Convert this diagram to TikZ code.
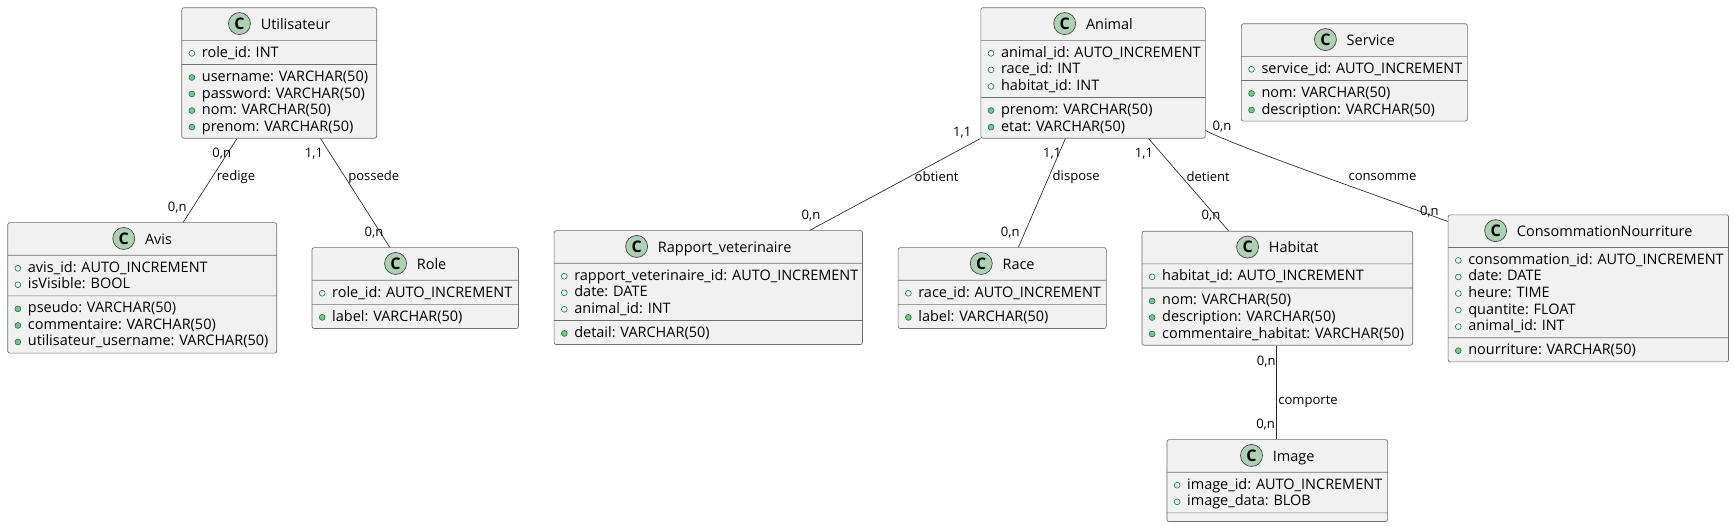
\documentclass[tikz,border=0pt]{standalone}
\usepackage{fontspec}
\setmainfont{Open Sans}
\usepackage{xcolor}
\usetikzlibrary{calc,shapes.multipart}
\definecolor{classfill}{HTML}{F1F1F1}
\definecolor{classline}{HTML}{6E6E6E}
\definecolor{iconfill}{HTML}{ADD1B2}
\definecolor{fieldgreen}{HTML}{038048}
\definecolor{methodgreen}{HTML}{84BE84}
\newcommand{\rowstrut}{\rule[-2.5pt]{0pt}{12.4pt}}
\newcommand{\classicon}{\smash{\tikz[baseline=(cc.base)]{\node[circle,draw=black!75,line width=.5pt,fill=iconfill,minimum size=16.5pt,inner sep=0pt,text width=,font=\fontsize{12}{12}\selectfont\bfseries] (cc) {C};}}}
\newcommand{\fld}[1]{\mbox{\rowstrut\smash{\tikz[baseline=-3pt]{\draw[fieldgreen,line width=.45pt,fill=none] (0,0) circle (2.2pt);}\hspace{5.1pt}#1}}\par}
\newcommand{\mth}[1]{\mbox{\rowstrut\smash{\tikz[baseline=-3pt]{\draw[fieldgreen,line width=.45pt,fill=methodgreen] (0,0) circle (2.2pt);}\hspace{5.1pt}#1}}\par}
\newcommand{\umlclass}[7]{%
  \node[classbox,text width=#4*.75pt-10.4pt] (#1) at (#2,#3)
    {\centering\rule[-5.45pt]{0pt}{18.75pt}\classicon\hspace{7.5pt}\smash{#5}\par\nodepart{two}#6\nodepart{three}#7};}
\tikzset{
  classbox/.style={rectangle split,rectangle split parts=3,anchor=north west,draw=classline,
    rectangle split part fill={classfill},rounded corners=1.6pt,line width=.5pt,inner xsep=5.2pt,inner ysep=2.6pt,
    font=\fontsize{10.85}{12.4pt}\selectfont\frenchspacing},
  conn/.style={line width=.5pt,draw=black!85},
  lbl/.style={inner sep=0pt,font=\fontsize{9.8}{11}\selectfont\frenchspacing}
}
\begin{document}
\begin{tikzpicture}[x=.75pt,y=-.75pt]
\useasboundingbox (0,0) rectangle (1734,525);
\umlclass{utilisateur}{181.4}{7.4}{195}{Utilisateur}{\fld{role\_id: INT}}{\mth{username: VARCHAR(50)}\mth{password: VARCHAR(50)}\mth{nom: VARCHAR(50)}\mth{prenom: VARCHAR(50)}}
\umlclass{avis}{7.4}{222.3}{269}{Avis}{\fld{avis\_id: AUTO\_INCREMENT}\fld{isVisible: BOOL}}{\mth{pseudo: VARCHAR(50)}\mth{commentaire: VARCHAR(50)}\mth{utilisateur\_username: VARCHAR(50)}}
\umlclass{role}{311.7}{247.3}{206.5}{Role}{\fld{role\_id: AUTO\_INCREMENT}}{\mth{label: VARCHAR(50)}}
\umlclass{rapport}{553.8}{230.3}{308.4}{Rapport\_veterinaire}{\fld{rapport\_veterinaire\_id: AUTO\_INCREMENT}\fld{date: DATE}\fld{animal\_id: INT}}{\mth{detail: VARCHAR(50)}}
\umlclass{race}{897.8}{247.3}{208.2}{Race}{\fld{race\_id: AUTO\_INCREMENT}}{\mth{label: VARCHAR(50)}}
\umlclass{animal}{980.5}{7.4}{224.5}{Animal}{\fld{animal\_id: AUTO\_INCREMENT}\fld{race\_id: INT}\fld{habitat\_id: INT}}{\mth{prenom: VARCHAR(50)}\mth{etat: VARCHAR(50)}}
\umlclass{service}{1241}{23.4}{226}{Service}{\fld{service\_id: AUTO\_INCREMENT}}{\mth{nom: VARCHAR(50)}\mth{description: VARCHAR(50)}}
\umlclass{habitat}{1141.6}{230.9}{270.8}{Habitat}{\fld{habitat\_id: AUTO\_INCREMENT}}{\mth{nom: VARCHAR(50)}\mth{description: VARCHAR(50)}\mth{commentaire\_habitat: VARCHAR(50)}}
\umlclass{conso}{1447.8}{214.5}{280.4}{ConsommationNourriture}{\fld{consommation\_id: AUTO\_INCREMENT}\fld{date: DATE}\fld{heure: TIME}\fld{quantite: FLOAT}\fld{animal\_id: INT}}{\mth{nourriture: VARCHAR(50)}}
\umlclass{image}{1166.6}{439.3}{220.7}{Image}{\fld{image\_id: AUTO\_INCREMENT}\fld{image\_data: BLOB}}{\rule{0pt}{.75pt}}
\draw[conn] ($(utilisateur.south west)+(55.6,0)$) -- ($(avis.north west)+(175.8,0)$);
\draw[conn] ($(utilisateur.south west)+(139.1,0)$) -- ($(role.north west)+(78.1,0)$);
\draw[conn] (animal.south west) -- ($(rapport.north west)+(256,0)$);
\draw[conn] ($(animal.south west)+(84.9,0)$) -- ($(race.north west)+(120.6,0)$);
\draw[conn] ($(animal.south west)+(168,0)$) -- ($(habitat.north west)+(87,0)$);
\draw[conn] ($(animal.south east)+(0,-8)$) .. controls +(30,16) and +(-70,-26) .. ($(conso.north west)+(0,7)$);
\draw[conn] ($(habitat.south west)+(134.8,0)$) -- ($(image.north west)+(109.8,0)$);
\node[lbl] (a1) at (221.8,153.3) {0,n};
\node[lbl] (a2) at (236,176.7) {redige};
\node[lbl] (a3) at (177.2,207.3) {0,n};
\node[lbl] (b1) at (314,153.3) {1,1};
\node[lbl] (b2) at (373.8,176.7) {possede};
\node[lbl] (b3) at (374,232.7) {0,n};
\node[lbl] (c1) at (962.2,132.7) {1,1};
\node[lbl] (c2) at (936.6,176.7) {obtient};
\node[lbl] (c3) at (811,216) {0,n};
\node[lbl] (d1) at (1052.3,153.3) {1,1};
\node[lbl] (d2) at (1076.2,176.7) {dispose};
\node[lbl] (d3) at (1010.2,232.7) {0,n};
\node[lbl] (e1) at (1143.9,153.7) {1,1};
\node[lbl] (e2) at (1208.2,177) {detient};
\node[lbl] (e3) at (1211,215.8) {0,n};
\node[lbl] (f1) at (1222,126.8) {0,n};
\node[lbl] (f2) at (1382.5,177) {consomme};
\node[lbl] (f3) at (1429.4,211.4) {0,n};
\node[lbl] (g1) at (1266.2,361.4) {0,n};
\node[lbl] (g2) at (1308,401.7) {comporte};
\node[lbl] (g3) at (1265.6,424.5) {0,n};
\end{tikzpicture}
\end{document}
